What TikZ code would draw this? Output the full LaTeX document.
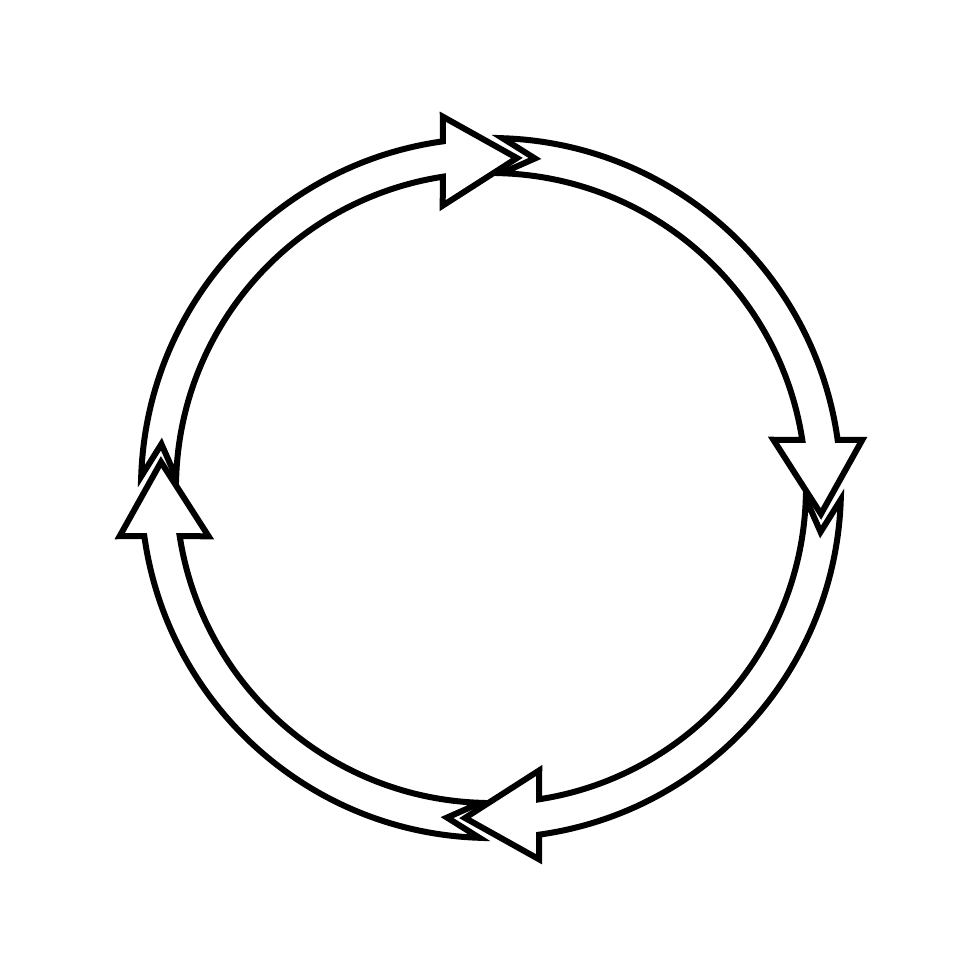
\documentclass[tikz,border=0pt]{standalone}
\usepackage{tikz}

\begin{document}
\begin{tikzpicture}[arrowline/.style={line width=0.06cm, line join=miter}]
\useasboundingbox (-4.91,-4.92) rectangle (4.89,4.88);
\coordinate (centre) at (0,0);
% top arrow, pointing right
\draw[arrowline] (178.1:3.5) arc[start angle=178.1, end angle=97.9, radius=3.5] -- (97.4:3.745) -- (85.5:3.31) -- (99.7:2.865) -- (98.8:3.15) arc[start angle=98.8, end angle=178.1, radius=3.15] -- (172.4:3.325) -- cycle;
% right arrow, pointing down
\draw[arrowline, rotate=-90] (178.1:3.5) arc[start angle=178.1, end angle=97.9, radius=3.5] -- (97.4:3.745) -- (85.5:3.31) -- (99.7:2.865) -- (98.8:3.15) arc[start angle=98.8, end angle=178.1, radius=3.15] -- (172.4:3.325) -- cycle;
% bottom arrow, pointing left
\draw[arrowline, rotate=-180] (178.1:3.5) arc[start angle=178.1, end angle=97.9, radius=3.5] -- (97.4:3.745) -- (85.5:3.31) -- (99.7:2.865) -- (98.8:3.15) arc[start angle=98.8, end angle=178.1, radius=3.15] -- (172.4:3.325) -- cycle;
% left arrow, pointing up
\draw[arrowline, rotate=-270] (178.1:3.5) arc[start angle=178.1, end angle=97.9, radius=3.5] -- (97.4:3.745) -- (85.5:3.31) -- (99.7:2.865) -- (98.8:3.15) arc[start angle=98.8, end angle=178.1, radius=3.15] -- (172.4:3.325) -- cycle;
\end{tikzpicture}
\end{document}
